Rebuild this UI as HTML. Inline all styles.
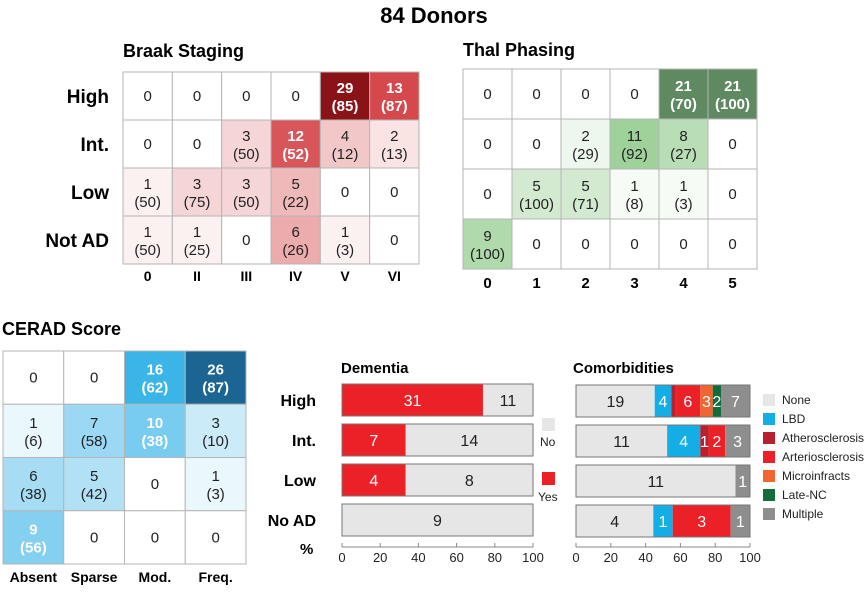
<!DOCTYPE html>
<html><head><meta charset="utf-8"><style>
body{margin:0;background:#fff;width:868px;height:588px;overflow:hidden}
svg{font-family:"Liberation Sans",Arial,sans-serif}
</style></head><body>
<svg id="s" width="868" height="588" xmlns="http://www.w3.org/2000/svg">
<text x="434" y="23" text-anchor="middle" font-size="22" font-weight="bold">84 Donors</text>
</svg>
<script>
const rowLabels=["High","Int.","Low","Not AD"];
const braakCols=["0","II","III","IV","V","VI"];
const braakCounts=[[0,0,0,0,29,13],[0,0,3,12,4,2],[1,3,3,5,0,0],[1,1,0,6,1,0]];
const braakPct=[[null,null,null,null,85,87],[null,null,50,52,12,13],[50,75,50,22,null,null],[50,25,null,26,3,null]];
const thalCols=["0","1","2","3","4","5"];
const thalCounts=[[0,0,0,0,21,21],[0,0,2,11,8,0],[0,5,5,1,1,0],[9,0,0,0,0,0]];
const thalPct=[[null,null,null,null,70,100],[null,null,29,92,27,null],[null,100,71,8,3,null],[100,null,null,null,null,null]];
const ceradCols=["Absent","Sparse","Mod.","Freq."];
const ceradCounts=[[0,0,16,26],[1,7,10,3],[6,5,0,1],[9,0,0,0]];
const ceradPct=[[null,null,62,87],[6,58,38,10],[38,42,null,3],[56,null,null,null]];
const barRows=["High","Int.","Low","No AD"];
const demYes=[31,7,4,0];
const demNo=[11,14,8,9];
const comCats=["None","LBD","Atherosclerosis","Arteriosclerosis","Microinfracts","Late-NC","Multiple"];
const comNone=[19,11,11,4];
const comLBD=[4,4,0,1];
const comAthero=[1,1,0,0];
const comArterio=[6,2,0,3];
const comMicro=[3,0,0,0];
const comLate=[2,0,0,0];
const comMultiple=[7,3,1,1];
const xTicks=[0,20,40,60,80,100];
const comColors=["#e6e6e6","#14aee6","#b8202e","#ec2027","#f26531","#136c3a","#8e8e8e"];

const S=document.getElementById('s');const NS="http://www.w3.org/2000/svg";
function el(t,a,txt){const e=document.createElementNS(NS,t);for(const k in a)e.setAttribute(k,a[k]);if(txt!==undefined)e.textContent=txt;S.appendChild(e);return e;}
function mix(a,b,t){const p=h=>[1,3,5].map(i=>parseInt(h.substr(i,2),16));const A=p(a),B=p(b);return "rgb("+A.map((v,i)=>Math.round(v+(B[i]-v)*t)).join(",")+")";}
function scale(c,mid,midv,dark,maxv){if(c<=midv)return mix("#ffffff",mid,c/midv);return mix(mid,dark,(c-midv)/(maxv-midv));}

function heat(name,title,tx,ty,x0,y0,w,h,cols,counts,pct,colorFn,whiteMin,showRows,colLy,colSize){
  let t=el('text',{x:tx,y:ty,'font-size':18,'font-weight':'bold'},title);
  
  const cw=w/cols.length,rh=h/counts.length;
  counts.forEach((row,r)=>{row.forEach((c,ci)=>{
    const x=x0+ci*cw,y=y0+r*rh;
    const rc=el('rect',{x:x,y:y,width:cw,height:rh,fill:colorFn(c),stroke:'#b5b5b5','stroke-width':1});
    
    const white=c>=whiteMin;const fc=white?'#fff':'#222';const fw=white?'bold':'normal';
    const p=pct[r][ci];
    if(p===null){const tt=el('text',{x:x+cw/2,y:y+rh/2+5,'text-anchor':'middle','font-size':15,fill:fc,'font-weight':fw},c);}
    else{const t1=el('text',{x:x+cw/2,y:y+rh/2-3,'text-anchor':'middle','font-size':15,fill:fc,'font-weight':fw},c);
      const t2=el('text',{x:x+cw/2,y:y+rh/2+15,'text-anchor':'middle','font-size':15,fill:fc,'font-weight':fw},"("+p+")");}
  });
  if(showRows){const l=el('text',{x:x0-14,y:y0+r*rh+rh/2+7,'text-anchor':'end','font-size':19,'font-weight':'bold'},rowLabels[r]);}
  });
  cols.forEach((c,ci)=>{const l=el('text',{x:x0+ci*cw+cw/2,y:colLy,'text-anchor':'middle','font-size':colSize,'font-weight':'bold'},c);});
}
heat('braak','Braak Staging',123,57,123,72,296,192,braakCols,braakCounts,braakPct,c=>scale(c,"#d5484c",13,"#8a1318",29),12,true,281,14);
heat('thal','Thal Phasing',463,56,463,69,294,200,thalCols,thalCounts,thalPct,c=>scale(c,"#9fd19a",11,"#5f8a61",21),21,false,288,15);
heat('cerad','CERAD Score',2,335,3,351,243,213,ceradCols,ceradCounts,ceradPct,c=>c<=16?mix("#ffffff","#3bb4e8",Math.pow(c/16,0.8)):mix("#2ab0e6","#1a6592",(c-16)/10),9,false,582,14);

const barY=[384,424,464,504],barH=32;
function axis(name,x0,x1){const xs=v=>x0+(x1-x0)*v/100;
  const a=el('line',{x1:x0,x2:x1,y1:547,y2:547,stroke:'#888'});
  xTicks.forEach(v=>{const tk=el('line',{x1:xs(v),x2:xs(v),y1:547,y2:543,stroke:'#888'});
    const tl=el('text',{x:xs(v),y:562,'text-anchor':'middle','font-size':13,fill:'#222'},v);});
  return xs;}
function seg(name,x,y,w,c,val,dark){const r=el('rect',{x:x,y:y,width:w,height:barH,fill:c});
  if(val>0&&w>=8){const t=el('text',{x:x+w/2,y:y+barH/2+6,'text-anchor':'middle','font-size':16,fill:dark?'#222':'#fff'},val);}}
let t=el('text',{x:341,y:373,'font-size':15,'font-weight':'bold'},'Dementia');
let xs=axis('dementia',342,533);
barRows.forEach((r,i)=>{const tot=demYes[i]+demNo[i];const y=barY[i];
  const l=el('text',{x:316,y:y+barH/2+6,'text-anchor':'end','font-size':16,'font-weight':'bold'},r);
  const w1=xs(demYes[i]/tot*100)-xs(0);seg('dementia-yes-bar',xs(0),y,w1,'#ec2027',demYes[i],false);
  seg('dementia-no-bar',xs(0)+w1,y,xs(100)-xs(0)-w1,'#e6e6e6',demNo[i],true);
  const o=el('rect',{x:xs(0),y:y,width:xs(100)-xs(0),height:barH,fill:'none',stroke:'#777'});});
t=el('text',{x:300,y:554,'font-size':15,'font-weight':'bold'},'%');
let r=el('rect',{x:542,y:418,width:13,height:13,fill:'#e6e6e6'});
t=el('text',{x:540,y:446,'font-size':12,fill:'#222'},'No');
r=el('rect',{x:542,y:472,width:13,height:13,fill:'#ec2027'});
t=el('text',{x:538,y:501,'font-size':12,fill:'#222'},'Yes');

t=el('text',{x:573,y:373,'font-size':15,'font-weight':'bold'},'Comorbidities');
xs=axis('comorbidities',576,750);
const comSeries=[comNone,comLBD,comAthero,comArterio,comMicro,comLate,comMultiple];
barRows.forEach((rr,i)=>{const tot=comSeries.reduce((s,a)=>s+a[i],0);const y=barY[i]+1;let acc=0;
  comSeries.forEach((a,k)=>{const x=xs(acc/tot*100);const w=xs((acc+a[i])/tot*100)-x;acc+=a[i];if(a[i]>0)seg('comorbidity-'+comCats[k].toLowerCase()+'-bar',x,y,w,comColors[k],a[i],k==0);});
  const o=el('rect',{x:xs(0),y:y,width:xs(100)-xs(0),height:barH,fill:'none',stroke:'#777'});});
comCats.forEach((c,k)=>{const y=394+k*19;const sw=el('rect',{x:763,y:y,width:12,height:12,fill:comColors[k]});
  const tt=el('text',{x:782,y:y+10,'font-size':12,fill:'#222'},c);});
</script>
</body></html>
